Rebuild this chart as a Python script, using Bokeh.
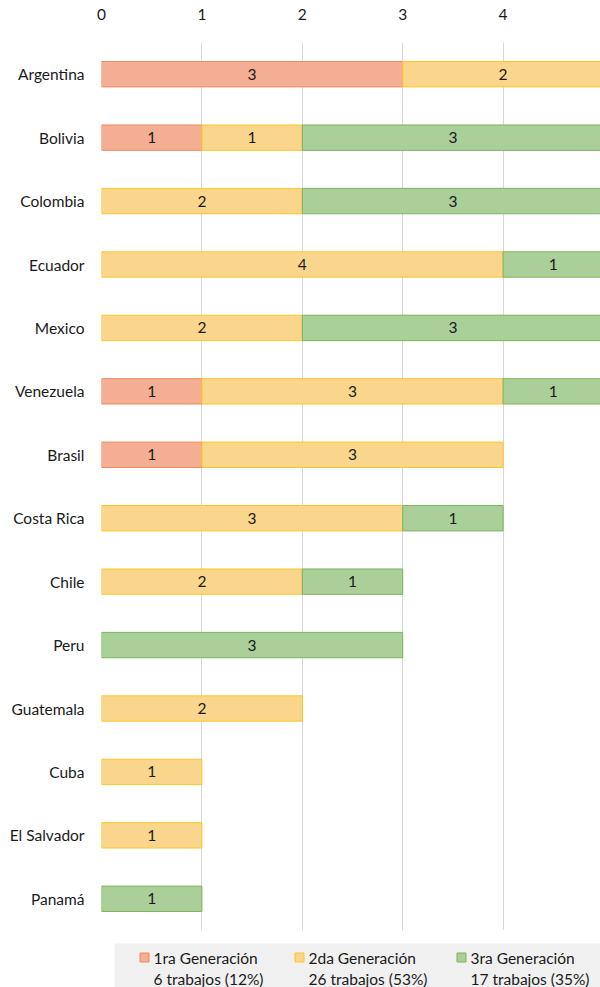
from bokeh.plotting import figure
from bokeh.models import ColumnDataSource, Range1d, FactorRange
from bokeh.layouts import column
from bokeh.core.properties import value
from bokeh.embed import file_html
from bokeh.resources import INLINE

countries = ["Argentina", "Bolivia", "Colombia", "Ecuador", "Mexico", "Venezuela", "Brasil",
             "Costa Rica", "Chile", "Peru", "Guatemala", "Cuba", "El Salvador", "Panamá"]
gen1 = [3, 1, 0, 0, 0, 1, 1, 0, 0, 0, 0, 0, 0, 0]
gen2 = [2, 1, 2, 4, 2, 3, 3, 3, 2, 0, 2, 1, 1, 0]
gen3 = [0, 3, 3, 1, 3, 1, 0, 1, 1, 3, 0, 0, 0, 1]
series_names = ["1ra Generación", "2da Generación", "3ra Generación"]
series_notes = ["6 trabajos (12%)", "26 trabajos (53%)", "17 trabajos (35%)"]
x_ticks = [0, 1, 2, 3, 4, 5]

fills = ["#F4AE93", "#F9D68C", "#AACF98"]
lines = ["#EE8A5E", "#FFC526", "#7DB45A"]
FONT = "Lato"
FS = "15.5px"
TXT = "#1a1a1a"

p = figure(width=600, height=930, output_backend="svg", toolbar_location=None,
           y_range=FactorRange(factors=list(reversed(countries)), range_padding=0),
           x_range=Range1d(0, 4.97), x_axis_location="above",
           min_border_left=101, min_border_right=0, min_border_top=42, min_border_bottom=0)

# stacked segments (only non-zero ones, so no stray zero-width borders)
cum = [0] * len(countries)
lx, ly, lt = [], [], []
for k, series in enumerate((gen1, gen2, gen3)):
    d = dict(country=[], left=[], right=[])
    for i, v in enumerate(series):
        if v > 0:
            d["country"].append(countries[i])
            d["left"].append(cum[i])
            d["right"].append(cum[i] + v)
            lx.append(cum[i] + v / 2)
            ly.append(countries[i])
            lt.append(str(v))
        cum[i] += v
    p.hbar(y="country", left="left", right="right", height=0.4, source=ColumnDataSource(d),
           fill_color=fills[k], line_color=lines[k], line_width=1)

p.text(x=lx, y=ly, text=lt, text_align="center", text_baseline="middle",
       text_font=value(FONT), text_font_size=FS, text_color=TXT)

p.xaxis.ticker = x_ticks
p.xaxis.axis_line_color = None
p.xaxis.major_tick_line_color = None
p.xaxis.minor_tick_line_color = None
p.xaxis.major_label_standoff = 17
p.xaxis.major_label_text_font = FONT
p.xaxis.major_label_text_font_size = FS
p.xaxis.major_label_text_color = TXT

p.yaxis.axis_line_color = None
p.yaxis.major_tick_line_color = None
p.yaxis.major_label_standoff = 11
p.yaxis.major_label_text_font = FONT
p.yaxis.major_label_text_font_size = FS
p.yaxis.major_label_text_color = TXT

p.xgrid.grid_line_color = "#D9D9D9"
p.ygrid.grid_line_color = None
p.outline_line_color = None

# legend strip (separate figure, frame aligned with the main one, pixel coordinates)
lg = figure(width=600, height=57, output_backend="svg", toolbar_location=None,
            x_range=Range1d(101, 600), y_range=Range1d(0, 57),
            min_border_left=101, min_border_right=0, min_border_top=0, min_border_bottom=0)
lg.axis.visible = False
lg.grid.visible = False
lg.outline_line_color = None
lg.quad(left=[114], right=[610], bottom=[-5], top=[44], fill_color="#F0F0F0", line_color=None)
sx = [139, 294, 456]
lg.rect(x=[s + 5 for s in sx], y=[30] * 3, width=9, height=9, fill_color=fills, line_color=lines)
lg.text(x=[s + 14 for s in sx], y=[30] * 3, text=series_names, text_baseline="middle",
        text_font=value(FONT), text_font_size=FS, text_color=TXT)
lg.text(x=[s + 14 for s in sx], y=[9] * 3, text=series_notes, text_baseline="middle",
        text_font=value(FONT), text_font_size=FS, text_color=TXT)

open("out.html", "w").write(file_html(column(p, lg, spacing=0), INLINE))
